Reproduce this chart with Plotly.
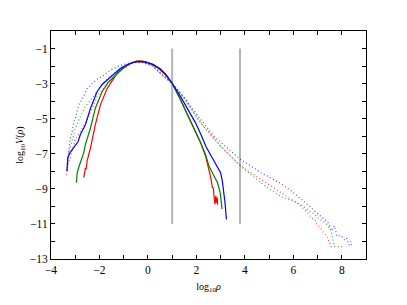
import plotly.graph_objects as go

# ---- data ----
blue_solid_x = [-3.34,-3.31,-3.22,-3.13,-2.99,-2.88,-2.79,-2.58,-2.37,-2.1,-1.89,-1.68,-1.41,-1.13,-0.86,-0.6,-0.35,-0.1,0.2,0.5,0.75,1.0,1.35,1.65,1.97,2.2,2.4,2.6,2.8,3.0,3.07,3.13,3.18,3.24]
blue_solid_y = [-7.99,-7.23,-6.95,-6.76,-6.48,-6.3,-5.91,-5.34,-4.4,-3.46,-3.05,-2.79,-2.45,-2.13,-1.92,-1.78,-1.74,-1.77,-1.9,-2.15,-2.5,-2.98,-3.74,-4.45,-5.25,-5.95,-6.6,-7.1,-7.55,-8.08,-8.55,-9.1,-9.78,-10.75]

green_solid_x = [-2.95,-2.92,-2.86,-2.78,-2.72,-2.65,-2.58,-2.47,-2.37,-2.17,-1.89,-1.65,-1.41,-1.13,-0.86,-0.6,-0.35,-0.1,0.2,0.5,0.75,1.0,1.35,1.75,2.18,2.38,2.52,2.7,2.87,2.98,3.06]
green_solid_y = [-8.65,-8.1,-7.8,-7.5,-7.23,-6.95,-6.48,-6.0,-5.53,-4.4,-3.46,-2.95,-2.6,-2.25,-1.94,-1.78,-1.73,-1.76,-1.9,-2.15,-2.5,-2.98,-3.93,-5.1,-6.38,-7.05,-7.7,-8.2,-8.64,-9.21,-10.16]

red_solid_x = [-2.65,-2.62,-2.58,-2.55,-2.51,-2.45,-2.37,-2.17,-1.96,-1.68,-1.41,-1.27,-1.0,-0.72,-0.45,-0.2,0.1,0.4,0.7,1.0,1.35,1.75,2.18,2.38,2.46,2.52,2.6,2.66,2.7,2.73,2.77,2.8,2.83,2.86,2.88]
red_solid_y = [-8.36,-8.0,-7.8,-7.9,-7.4,-7.1,-6.66,-5.34,-4.21,-3.27,-2.7,-2.41,-2.1,-1.85,-1.7,-1.72,-1.85,-2.1,-2.45,-2.98,-3.93,-5.1,-6.38,-7.14,-7.6,-8.08,-8.4,-8.93,-8.95,-9.5,-9.88,-9.4,-9.79,-9.5,-9.9]

blue_dot_x = [-3.34,-3.3,-3.27,-3.2,-3.13,-3.06,-2.99,-2.86,-2.7,-2.51,-2.3,-2.1,-1.8,-1.55,-1.2,-0.86,-0.55,-0.2,0.2,0.52,0.8,1.0,1.3,1.63,2.18,2.73,3.3,3.83,4.25,4.66,5.1,5.49,5.9,6.31,6.6,6.86,7.1,7.42,7.6,7.7,7.8,7.97,8.1,8.2,8.3,8.38,8.4]
blue_dot_y = [-7.9,-7.5,-6.85,-6.1,-5.82,-5.16,-5.0,-4.21,-3.85,-3.3,-3.0,-2.75,-2.5,-2.23,-2.0,-1.85,-1.76,-1.8,-2.0,-2.4,-2.75,-3.02,-3.45,-4.02,-5.06,-6.0,-6.7,-7.33,-7.7,-8.08,-8.4,-8.7,-9.1,-9.55,-9.9,-10.25,-10.55,-10.9,-11.4,-11.1,-11.7,-11.67,-11.9,-11.8,-12.2,-12.0,-12.35]

green_dot_x = [-3.32,-3.3,-3.2,-3.13,-3.0,-2.79,-2.6,-2.37,-2.15,-1.96,-1.7,-1.41,-1.1,-0.86,-0.55,-0.2,0.2,0.52,0.8,1.0,1.3,1.49,2.18,3.0,3.83,4.25,4.66,5.1,5.49,5.9,6.31,6.6,6.86,7.1,7.3,7.42,7.55,7.63,7.7,7.85,8.05]
green_dot_y = [-8.0,-7.14,-6.6,-6.2,-5.6,-4.87,-4.35,-3.93,-3.5,-3.17,-2.75,-2.42,-2.1,-1.95,-1.8,-1.8,-2.0,-2.45,-2.75,-3.0,-3.5,-3.83,-5.25,-6.57,-7.7,-8.2,-8.65,-9.1,-9.45,-9.65,-9.88,-10.2,-10.44,-10.75,-10.9,-11.1,-11.4,-11.86,-12.3,-12.3,-12.3]

red_dot_x = [-3.37,-3.34,-3.23,-3.13,-3.0,-2.79,-2.51,-2.24,-2.1,-1.68,-1.13,-0.58,-0.2,0.2,0.52,0.8,1.0,1.3,1.49,2.18,3.0,3.83,4.25,4.66,5.1,5.49,5.9,6.31,6.55,6.73,6.9,7.0,7.15,7.28,7.4,7.49,7.55,7.7]
red_dot_y = [-8.2,-7.8,-7.33,-6.85,-6.2,-5.72,-5.06,-4.21,-3.74,-2.98,-2.23,-1.81,-1.78,-1.95,-2.4,-2.72,-3.0,-3.5,-3.83,-5.25,-6.57,-7.7,-8.1,-8.46,-8.85,-9.22,-9.6,-9.97,-10.3,-10.63,-10.8,-11.1,-11.3,-11.57,-11.7,-12.14,-12.3,-12.3]

vline_x = [1.0, 3.8]
vline_y = [-11.0, -1.0]

x_ticks = [-4, -2, 0, 2, 4, 6, 8]
x_ticktext = ["\u22124", "\u22122", "0", "2", "4", "6", "8"]
y_ticks = [-13, -11, -9, -7, -5, -3, -1]
y_ticktext = ["\u221213", "\u221211", "\u22129", "\u22127", "\u22125", "\u22123", "\u22121"]

FONT = "Liberation Serif"

fig = go.Figure()

for vx in vline_x:
    fig.add_trace(go.Scatter(x=[vx, vx], y=vline_y, mode="lines",
                             line=dict(color="#b4b4b4", width=2), showlegend=False, hoverinfo="skip"))

dotted = [(red_dot_x, red_dot_y, "#ff0000"), (green_dot_x, green_dot_y, "#008000"), (blue_dot_x, blue_dot_y, "#0000ff")]
for xs, ys, c in dotted:
    fig.add_trace(go.Scatter(x=xs, y=ys, mode="lines", opacity=0.7,
                             line=dict(color=c, width=1.2, dash="1px,2.5px"), showlegend=False))

solid = [(red_solid_x, red_solid_y, "#ff0000"), (green_solid_x, green_solid_y, "#008000"), (blue_solid_x, blue_solid_y, "#0000ff")]
for xs, ys, c in solid:
    fig.add_trace(go.Scatter(x=xs, y=ys, mode="lines",
                             line=dict(color=c, width=1.2), showlegend=False))

axis_common = dict(showline=True, linecolor="black", linewidth=1, mirror="ticks",
                   ticks="inside", ticklen=4, tickcolor="black", showgrid=False, zeroline=False,
                   automargin=False,
                   tickfont=dict(family=FONT, size=11.5, color="black"))

# page body has an 8px margin, so plot margins are shifted accordingly
fig.update_layout(
    width=407, height=305,
    margin=dict(l=43, r=49, t=22.5, b=53.5),
    paper_bgcolor="white", plot_bgcolor="white",
    font=dict(family=FONT, color="black"),
    xaxis=dict(range=[-4, 9], tickmode="array", tickvals=x_ticks, ticktext=x_ticktext,
               minor=dict(dtick=1, tick0=-4, ticks="inside", ticklen=4, tickcolor="black"),
               title=dict(text="log<sub>10</sub><i>ρ</i>", font=dict(family=FONT, size=10), standoff=8),
               **axis_common),
    yaxis=dict(range=[-13, 0], tickmode="array", tickvals=y_ticks, ticktext=y_ticktext,
               minor=dict(dtick=1, tick0=-13, ticks="inside", ticklen=4, tickcolor="black"),
               title=dict(text="log<sub>10</sub><i>V</i>(<i>ρ</i>)", font=dict(family=FONT, size=10), standoff=4),
               **axis_common),
)

fig.write_html("out.html")
